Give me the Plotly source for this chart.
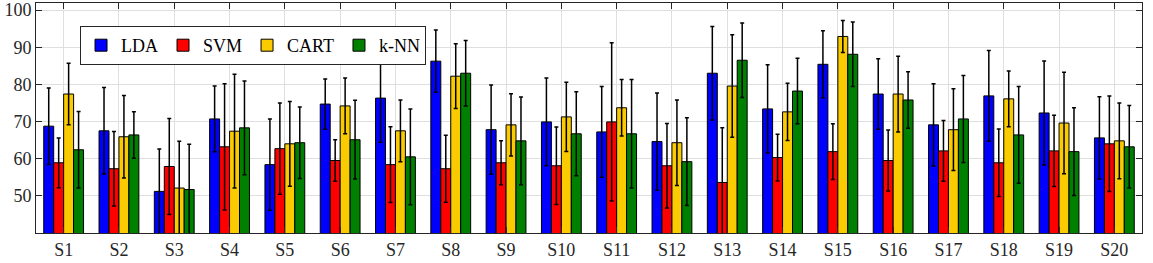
import plotly.graph_objects as go

categories = [f"S{i}" for i in range(1, 21)]
methods = ["LDA", "SVM", "CART", "k-NN"]

lda_mean = [68.75, 67.5, 51.2, 70.7, 58.4, 74.7, 76.3, 86.25, 67.8, 69.9,
            67.2, 64.6, 83.0, 73.4, 85.4, 77.4, 69.1, 76.9, 72.3, 65.6]
lda_err = [10.3, 11.65, 11.4, 8.85, 12.3, 6.75, 11.9, 8.4, 12.0, 11.8,
           12.2, 13.1, 12.6, 11.9, 9.0, 9.5, 11.1, 12.2, 14.0, 11.1]

svm_mean = [58.9, 57.3, 57.9, 63.2, 62.7, 59.5, 58.4, 57.3, 58.9, 58.1,
            69.9, 58.1, 53.6, 60.3, 61.9, 59.5, 62.1, 58.9, 62.1, 64.0]
svm_err = [6.7, 10.0, 12.9, 17.0, 12.3, 5.6, 10.2, 9.0, 5.9, 10.4,
           21.3, 11.4, 14.7, 6.3, 7.5, 8.2, 8.2, 9.1, 9.6, 12.85]

cart_mean = [77.4, 65.9, 52.1, 67.4, 64.0, 74.2, 67.5, 82.2, 69.1, 71.25,
             73.7, 64.3, 79.55, 72.6, 92.9, 77.4, 67.8, 76.1, 69.6, 64.8]
cart_err = [8.3, 11.1, 12.6, 15.3, 11.4, 7.5, 8.3, 8.7, 8.4, 9.3,
            7.6, 11.5, 13.8, 7.7, 4.3, 10.2, 11.0, 7.5, 13.65, 10.2]

knn_mean = [62.4, 66.4, 51.7, 68.3, 64.3, 65.1, 60.5, 83.0, 64.8, 66.7,
            66.7, 59.2, 86.5, 78.2, 88.1, 75.8, 70.7, 66.4, 61.9, 63.2]
knn_err = [10.3, 6.25, 12.2, 12.6, 9.6, 10.6, 12.9, 8.8, 11.8, 11.3,
           14.6, 11.8, 10.0, 8.8, 8.7, 7.6, 11.7, 13.0, 11.8, 11.1]

y_ticks = [50, 60, 70, 80, 90, 100]

colors = ["#0000FF", "#FF0000", "#F9CB00", "#008000"]
means = [lda_mean, svm_mean, cart_mean, knn_mean]
errs = [lda_err, svm_err, cart_err, knn_err]

fig = go.Figure()
for name, m, e, c in zip(methods, means, errs, colors):
    fig.add_trace(go.Bar(
        x=categories, y=m, name=name,
        marker=dict(color=c, line=dict(color="black", width=1)),
        error_y=dict(type="data", array=e, visible=True, color="black",
                     thickness=1.5, width=2),
    ))

FONT = "Liberation Serif"
fig.update_layout(
    template="none",
    width=1153, height=263,
    margin=dict(l=36, r=11, t=3, b=30),
    barmode="group", bargap=0.28, bargroupgap=0,
    plot_bgcolor="white", paper_bgcolor="white",
    font=dict(family=FONT, size=18, color="#262626"),
    showlegend=True,
    legend=dict(orientation="h", x=0.0398, y=0.9, xanchor="left", yanchor="top",
                bordercolor="#262626", borderwidth=1, bgcolor="white",
                font=dict(family=FONT, size=18, color="black"),
                itemwidth=30, tracegroupgap=0),
)
fig.update_xaxes(
    showline=True, linecolor="#262626", linewidth=1, mirror="ticks",
    ticks="inside", ticklen=6, tickcolor="#262626",
    showgrid=True, gridcolor="#DFDFDF", gridwidth=1,
    tickfont=dict(family=FONT, size=18, color="#262626"), range=[-0.5, 19.5],
)
fig.update_yaxes(
    showline=True, linecolor="#262626", linewidth=1, mirror="ticks",
    ticks="inside", ticklen=6, tickcolor="#262626",
    showgrid=True, gridcolor="#DFDFDF", gridwidth=1,
    tickvals=y_ticks, range=[40, 101.9],
    tickfont=dict(family=FONT, size=18, color="#262626"),
    zeroline=False,
)

fig.write_html("out.html", config={"displayModeBar": False},
               post_script="document.body.style.margin='0';document.body.style.padding='0';")
